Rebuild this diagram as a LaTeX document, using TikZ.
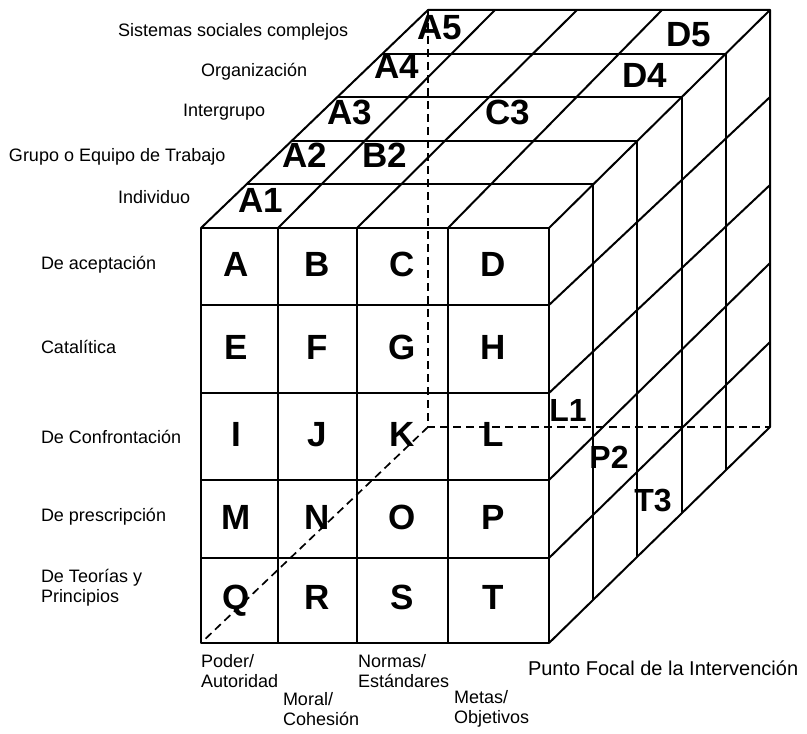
\documentclass[tikz,border=0pt]{standalone}
\usepackage{fontspec}
\setmainfont{Liberation Sans}
\usetikzlibrary{calc}

\begin{document}
\begin{tikzpicture}[x=0.5pt,y=-0.5pt,line width=1pt,line join=round,
  hidden/.style={dash pattern=on 4pt off 2.5pt,line width=0.85pt},
  cell/.style={font=\fontsize{17.5}{17.5}\selectfont\bfseries,inner sep=0pt,text height=12.5pt,text depth=0pt},
  depth/.style={font=\fontsize{16}{16}\selectfont\bfseries,inner sep=0pt,text height=11.5pt,text depth=0pt},
  side/.style={font=\fontsize{9}{10}\selectfont,inner sep=0pt,anchor=west,align=left},
  focal/.style={font=\fontsize{10}{12}\selectfont,inner sep=0pt,anchor=west}]
\useasboundingbox (0,0) rectangle (807,733);

% Hidden back edges show through the front cells.
\draw[hidden] (428,10) -- (428,427) -- (770,427);
\draw[hidden] (428,427) -- (201,643);

% Front face: five strategy rows by four focus columns.
\draw (201,228) rectangle (549,643);
\draw (278,228) -- (278,643); \draw (357,228) -- (357,643); \draw (448,228) -- (448,643);
\draw (201,305) -- (549,305); \draw (201,393) -- (549,393); \draw (201,480) -- (549,480); \draw (201,558) -- (549,558);

% Top face: one band per level, from individuo back to sistemas.
\draw (201,228) -- (428,10) -- (770,10) -- (549,228);
\draw (246.4,184.4) -- (593.2,184.4); \draw (291.8,140.8) -- (637.4,140.8);
\draw (337.2,97.2) -- (681.6,97.2); \draw (382.6,53.6) -- (725.8,53.6);
\draw (278,228) -- (495,10); \draw (357,228) -- (577,10); \draw (448,228) -- (662,10);

% Right face: the rows carried back through the levels.
\draw (770,10) -- (770,427) -- (549,643);
\draw (593.2,184.4) -- (593.2,599.8); \draw (637.4,140.8) -- (637.4,556.6);
\draw (681.6,97.2) -- (681.6,513.4); \draw (725.8,53.6) -- (725.8,470.2);
\draw (549,305) -- (770,97); \draw (549,393) -- (770,185); \draw (549,480) -- (770,263); \draw (549,558) -- (770,342);

% Cell letters on the front face.
\node[cell] (cA) at (236,264) {A}; \node[cell] (cB) at (317,264) {B}; \node[cell] (cC) at (402,264) {C}; \node[cell] (cD) at (493,264) {D};
\node[cell] (cE) at (236,347) {E}; \node[cell] (cF) at (317,347) {F}; \node[cell] (cG) at (402,347) {G}; \node[cell] (cH) at (493,347) {H};
\node[cell] (cI) at (236,434) {I}; \node[cell] (cJ) at (317,434) {J}; \node[cell] (cK) at (402,434) {K}; \node[cell] (cL) at (493,434) {L};
\node[cell] (cM) at (236,517) {M}; \node[cell] (cN) at (317,517) {N}; \node[cell] (cO) at (402,517) {O}; \node[cell] (cP) at (493,517) {P};
\node[cell] (cQ) at (236,597) {Q}; \node[cell] (cR) at (317,597) {R}; \node[cell] (cS) at (402,597) {S}; \node[cell] (cT) at (493,597) {T};

% Level cells named on the top face, depth cells on the right face.
\node[cell] (tA1) at (261,200) {A1}; \node[cell] (tA2) at (305,155) {A2}; \node[cell] (tB2) at (385,155) {B2};
\node[cell] (tA3) at (350,112) {A3}; \node[cell] (tC3) at (508,112) {C3}; \node[cell] (tA4) at (397,66) {A4};
\node[cell] (tA5) at (440,27) {A5}; \node[cell] (tD4) at (645,75) {D4}; \node[cell] (tD5) at (689,34) {D5};
\node[depth] (rL1) at (568,410) {L1}; \node[depth] (rP2) at (609,457) {P2}; \node[depth] (rT3) at (653,500) {T3};

% Level names along the top.
\node[side] (lvl5) at (117,32) {Sistemas sociales complejos};
\node[side] (lvl4) at (200,72) {Organización};
\node[side] (lvl3) at (182,112) {Intergrupo};
\node[side] (lvl2) at (8,157) {Grupo o Equipo de Trabajo};
\node[side] (lvl1) at (117,197) {Individuo};

% Intervention types down the left side.
\node[side] (int1) at (40,265) {De aceptación};
\node[side] (int2) at (40,347) {Catalítica};
\node[side] (int3) at (40,437) {De Confrontación};
\node[side] (int4) at (40,517) {De prescripción};
\node[side] (int5) at (40,588) {De Teorías y\\Principios};

% Focus columns under the cube.
\node[side] (foc1) at (200,671) {Poder/\\Autoridad};
\node[side] (foc2) at (282,709) {Moral/\\Cohesión};
\node[side] (foc3) at (357,671) {Normas/\\Estándares};
\node[side] (foc4) at (453,709) {Metas/\\Objetivos};
\node[focal] (focal) at (527,668) {Punto Focal de la Intervención};
\end{tikzpicture}
\end{document}
